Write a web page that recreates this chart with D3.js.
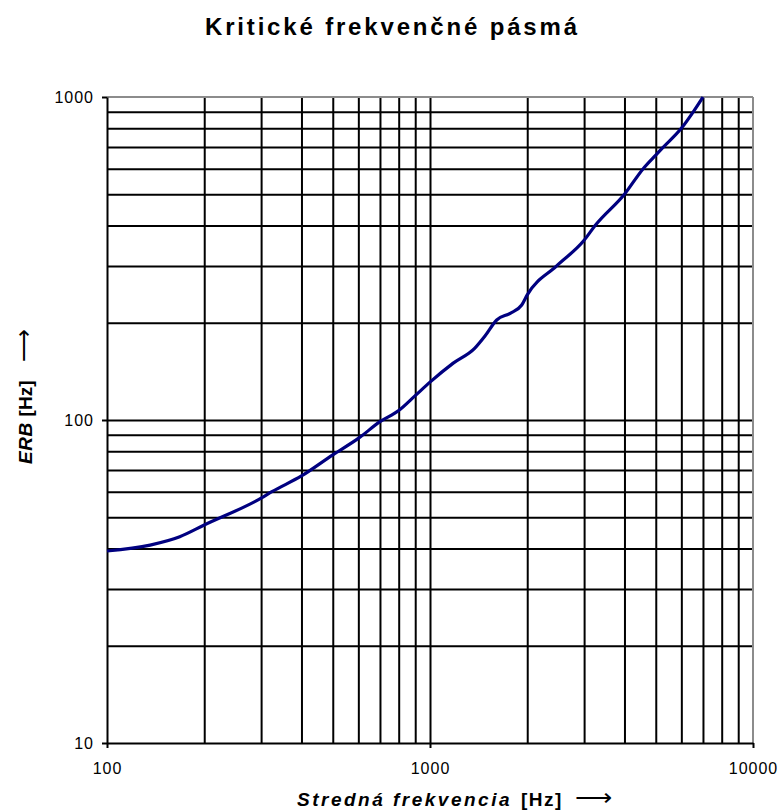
<!DOCTYPE html>
<html>
<head>
<meta charset="utf-8">
<script src="https://cdn.jsdelivr.net/npm/d3@7"></script>
<style>
  body { margin: 0; background: #fff; }
  svg { display: block; }
  text { font-family: "Liberation Sans", Arial, sans-serif; }
</style>
</head>
<body>
<script>
// Data
const frequencies = [100, 136, 168, 200, 300, 324, 400, 500, 600, 700, 800, 900, 1000, 1180, 1377, 1480, 1609, 1771, 1923, 2000, 2467, 3000, 3245, 4000, 4571, 5000, 5279, 6000, 6532, 7000];
const erbValues   = [39.3, 41.0, 43.5, 47.3, 57.3, 60, 67.1, 78, 87.7, 98.8, 107, 119, 131, 150, 167, 182, 204, 214, 227, 244, 300, 360, 400, 500, 600, 661, 700, 800, 900, 1000];
const xTickLabels = [100, 1000, 10000];
const yTickLabels = [10, 100, 1000];
const xGridValues = [200, 300, 400, 500, 600, 700, 800, 900, 1000, 2000, 3000, 4000, 5000, 6000, 7000, 8000, 9000];
const yGridValues = [20, 30, 40, 50, 60, 70, 80, 90, 100, 200, 300, 400, 500, 600, 700, 800, 900];
const titleText = "Kritické frekvenčné pásmá";
const xTitle = "Stredná frekvencia";
const yTitle = "ERB";
const unitText = "[Hz]";
const arrowText = "⟶";

const W = 783, H = 812;
const L = 107, R = 753, T = 97, B = 743;

const svg = d3.select("body").append("svg").attr("width", W).attr("height", H);

const x = d3.scaleLog().domain([100, 10000]).range([L, R]);
const y = d3.scaleLog().domain([10, 1000]).range([B, T]);

// gridlines
svg.append("g")
  .attr("transform", `translate(0,${B})`)
  .call(d3.axisBottom(x).tickValues(xGridValues).tickSize(-(B - T)).tickFormat(""))
  .call(g => g.select(".domain").remove())
  .call(g => g.selectAll("line").attr("stroke", "#000").attr("stroke-width", 2));

svg.append("g")
  .attr("transform", `translate(${L},0)`)
  .call(d3.axisLeft(y).tickValues(yGridValues).tickSize(-(R - L)).tickFormat(""))
  .call(g => g.select(".domain").remove())
  .call(g => g.selectAll("line").attr("stroke", "#000").attr("stroke-width", 2));

// top & right border (gray)
svg.append("line").attr("x1", L).attr("x2", R).attr("y1", T).attr("y2", T)
  .attr("stroke", "#8c8c8c").attr("stroke-width", 2);
svg.append("line").attr("x1", R).attr("x2", R).attr("y1", T).attr("y2", B)
  .attr("stroke", "#8c8c8c").attr("stroke-width", 2);

// axes
const xAxis = svg.append("g")
  .attr("transform", `translate(0,${B})`)
  .call(d3.axisBottom(x).tickValues(xTickLabels).tickSize(5).tickSizeOuter(0).tickPadding(15).tickFormat(d3.format("d")));
xAxis.select(".domain").attr("stroke", "#000").attr("stroke-width", 2);
xAxis.selectAll("line").attr("stroke", "#000").attr("stroke-width", 2);
xAxis.selectAll("text").attr("font-size", 16).attr("fill", "#000").attr("letter-spacing", 1)
  .style("font-family", "'Liberation Sans', Arial, sans-serif");

const yAxis = svg.append("g")
  .attr("transform", `translate(${L},0)`)
  .call(d3.axisLeft(y).tickValues(yTickLabels).tickSize(5).tickSizeOuter(0).tickPadding(8).tickFormat(d3.format("d")));
yAxis.select(".domain").attr("stroke", "#000").attr("stroke-width", 2);
yAxis.selectAll("line").attr("stroke", "#000").attr("stroke-width", 2);
yAxis.selectAll("text").attr("font-size", 16).attr("fill", "#000").attr("letter-spacing", 1)
  .style("font-family", "'Liberation Sans', Arial, sans-serif");

// curve
const line = d3.line().x((d, i) => x(frequencies[i])).y(d => y(d)).curve(d3.curveMonotoneX);
svg.append("path")
  .datum(erbValues)
  .attr("d", line)
  .attr("fill", "none")
  .attr("stroke", "#000080")
  .attr("stroke-width", 3.2)
  .attr("stroke-linejoin", "round");

// title
svg.append("text")
  .attr("x", 391).attr("y", 35)
  .attr("text-anchor", "middle")
  .attr("font-size", 24).attr("font-weight", "bold")
  .attr("textLength", 372).attr("lengthAdjust", "spacing")
  .attr("fill", "#000")
  .text(titleText);

// x axis title
const xt = svg.append("text")
  .attr("x", 297).attr("y", 806)
  .attr("text-anchor", "start")
  .attr("font-size", 19).attr("font-weight", "bold").attr("fill", "#000");
xt.append("tspan").attr("font-style", "italic").attr("letter-spacing", 2.5).text(xTitle);
xt.append("tspan").attr("x", 521).attr("letter-spacing", 1.5).text(unitText);
svg.append("text")
  .attr("x", 575).attr("y", 806)
  .attr("font-size", 26).attr("fill", "#000")
  .text(arrowText);

// y axis title
const yt = svg.append("g").attr("transform", "translate(32,0) rotate(-90)");
yt.append("text")
  .attr("x", -464).attr("y", 0)
  .attr("font-size", 19).attr("font-weight", "bold").attr("fill", "#000")
  .call(t => t.append("tspan").attr("font-style", "italic").attr("letter-spacing", 0.5).text(yTitle))
  .call(t => t.append("tspan").attr("dx", 6).text(unitText));
yt.append("text")
  .attr("x", -362).attr("y", -1)
  .attr("font-size", 23).attr("fill", "#000")
  .text(arrowText);
</script>
</body>
</html>
